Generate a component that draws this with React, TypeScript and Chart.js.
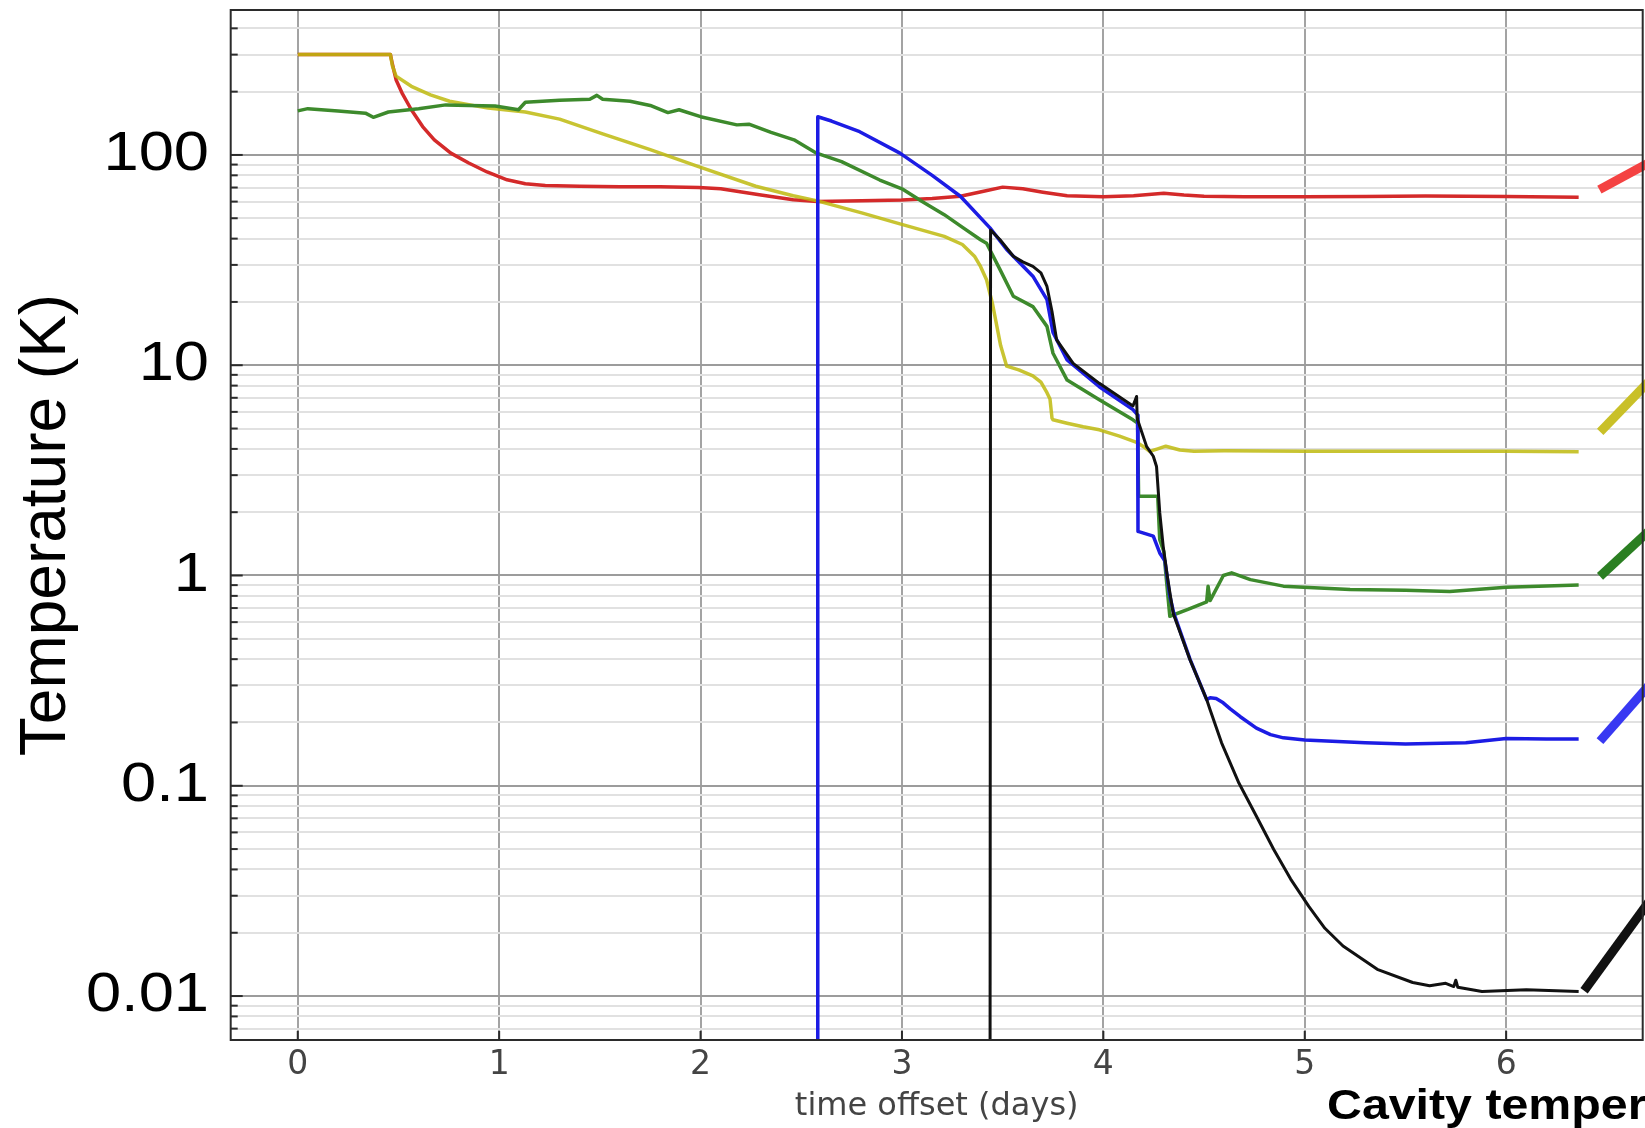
import React, { useEffect, useRef } from 'react';
import { Chart, registerables } from 'chart.js';

Chart.register(...registerables);

// ---- axis ranges & ticks ----
const X_MIN = -0.333;
const X_MAX = 6.678;
const Y_MIN = 0.00618;
const Y_MAX = 489;
const xTicks = [0, 1, 2, 3, 4, 5, 6];
const yTickValues = [100, 10, 1, 0.1, 0.01];
const yTickLabels = ['100', '10', '1', '0.1', '0.01'];

// ---- series (time offset in days, temperature in K) ----
const redX = [0, 0.46, 0.47, 0.488, 0.52, 0.564, 0.62, 0.678, 0.76, 0.849, 0.94, 1.039, 1.13, 1.229, 1.4, 1.6, 1.8, 1.99, 2.1, 2.18, 2.3, 2.46, 2.58, 2.8, 3.0, 3.15, 3.29, 3.4, 3.5, 3.6, 3.7, 3.82, 4.0, 4.15, 4.3, 4.4, 4.5, 4.7, 5.0, 5.3, 5.6, 6.0, 6.36];
const redY = [300, 300, 270, 228, 195, 164, 136.5, 118, 102, 91.6, 83, 76.2, 73, 71.6, 71, 70.5, 70.5, 70, 69, 67.2, 64.5, 61.2, 60, 60.5, 61, 62, 63.6, 67, 70.3, 69, 66.5, 64, 63.3, 64, 65.8, 64.5, 63.6, 63.3, 63.3, 63.5, 63.8, 63.5, 63];

const yellowX = [0, 0.46, 0.47, 0.488, 0.564, 0.659, 0.754, 0.945, 1.13, 1.3, 1.514, 1.75, 1.99, 2.274, 2.46, 2.58, 2.8, 2.99, 3.21, 3.3, 3.36, 3.39, 3.42, 3.45, 3.49, 3.52, 3.58, 3.65, 3.69, 3.72, 3.735, 3.745, 3.75, 3.82, 3.9, 3.98, 4.08, 4.165, 4.2, 4.23, 4.27, 4.31, 4.38, 4.45, 4.6, 5.0, 5.5, 6.0, 6.36];
const yellowY = [300, 300, 265, 237, 212, 193, 180, 167, 160, 148, 126, 106, 88, 71, 64, 60.5, 53, 47, 41, 37.5, 33, 29.5, 25.5, 19.5, 12.4, 9.9, 9.5, 8.9, 8.3, 7.4, 6.9, 5.6, 5.5, 5.3, 5.1, 4.93, 4.6, 4.3, 4.1, 3.89, 4.0, 4.12, 3.95, 3.9, 3.92, 3.9, 3.9, 3.9, 3.88];

const greenX = [0, 0.05, 0.2, 0.336, 0.375, 0.45, 0.6, 0.735, 0.85, 0.98, 1.096, 1.13, 1.3, 1.45, 1.485, 1.514, 1.65, 1.75, 1.838, 1.893, 2.0, 2.18, 2.24, 2.35, 2.464, 2.576, 2.7, 2.89, 3.0, 3.1, 3.21, 3.29, 3.39, 3.42, 3.487, 3.553, 3.65, 3.72, 3.75, 3.82, 3.98, 4.147, 4.17, 4.175, 4.27, 4.28, 4.3, 4.33, 4.42, 4.513, 4.52, 4.53, 4.596, 4.637, 4.73, 4.894, 5.225, 5.5, 5.72, 6.0, 6.36];
const greenY = [162, 166, 162, 158, 151, 160, 166, 173, 172, 171, 164, 178, 182, 184, 192, 184, 180, 172, 159, 164, 152, 139, 140, 128, 118, 102, 93, 76, 69, 60, 52, 46, 39.5, 38, 28.5, 21.3, 19, 15.3, 11.4, 8.5, 6.85, 5.5, 5.3, 2.38, 2.38, 1.48, 1.3, 0.64, 0.69, 0.75, 0.89, 0.76, 1.0, 1.03, 0.956, 0.89, 0.857, 0.85, 0.84, 0.88, 0.9];

const blueX = [2.58, 2.582, 2.65, 2.79, 2.99, 3.15, 3.29, 3.437, 3.52, 3.65, 3.72, 3.75, 3.82, 3.98, 4.147, 4.17, 4.172, 4.248, 4.28, 4.306, 4.33, 4.35, 4.43, 4.513, 4.53, 4.56, 4.595, 4.63, 4.68, 4.76, 4.83, 4.894, 5.0, 5.3, 5.5, 5.8, 6.0, 6.2, 6.36];
const blueY = [0.001, 152, 145, 129, 102, 80, 63.6, 45, 35.5, 26.5, 20.5, 14.3, 10.6, 7.9, 6.15, 5.8, 1.62, 1.54, 1.28, 1.17, 0.8, 0.66, 0.4, 0.257, 0.262, 0.26, 0.248, 0.232, 0.213, 0.188, 0.175, 0.169, 0.165, 0.16, 0.158, 0.16, 0.168, 0.167, 0.167];

const blackX = [3.437, 3.44, 3.487, 3.553, 3.6, 3.65, 3.69, 3.72, 3.745, 3.768, 3.85, 3.98, 4.147, 4.165, 4.168, 4.17, 4.215, 4.248, 4.264, 4.28, 4.297, 4.32, 4.347, 4.43, 4.513, 4.53, 4.587, 4.673, 4.76, 4.846, 4.93, 5.02, 5.1, 5.19, 5.36, 5.536, 5.62, 5.7, 5.74, 5.75, 5.76, 5.88, 6.1, 6.36];
const blackY = [0.001, 44, 39.5, 33, 31, 29.5, 27.5, 23.7, 18, 13.2, 10.2, 8.2, 6.4, 7.1, 5.6, 5.5, 4.1, 3.69, 3.3, 1.99, 1.38, 0.956, 0.66, 0.398, 0.257, 0.23, 0.16, 0.103, 0.0716, 0.0498, 0.036, 0.0267, 0.021, 0.0173, 0.0134, 0.0116, 0.0112, 0.0115, 0.0111, 0.0119, 0.011, 0.0105, 0.0107, 0.0105];

// ---- annotation leader lines at the right edge ----
const redLeadX = [6.463, 6.75];
const redLeadY = [68.4, 96.4];
const yellowLeadX = [6.467, 6.75];
const yellowLeadY = [4.82, 9.2];
const greenLeadX = [6.466, 6.75];
const greenLeadY = [0.99, 1.77];
const blueLeadX = [6.466, 6.75];
const blueLeadY = [0.163, 0.333];
const blackLeadX = [6.387, 6.75];
const blackLeadY = [0.0106, 0.0318];

const toPts = (xs: number[], ys: number[]) => xs.map((x, i) => ({ x, y: ys[i] }));
const isDecade = (v: number) => Math.abs(Math.log10(v) - Math.round(Math.log10(v))) < 1e-6;

const overlayPlugin = {
  id: 'frameTicksLabels',
  afterDraw(chart: any) {
    const { ctx, chartArea: a, scales } = chart;
    const ys = scales.y;
    const xs = scales.x;
    ctx.save();
    ctx.strokeStyle = '#2b2b2b';
    ctx.lineWidth = 2;
    ys.ticks.forEach((t: any) => {
      const py = ys.getPixelForValue(t.value);
      const len = isDecade(t.value) ? 12 : 7;
      ctx.beginPath();
      ctx.moveTo(a.left, py);
      ctx.lineTo(a.left + len, py);
      ctx.stroke();
    });
    xs.ticks.forEach((t: any) => {
      const px = xs.getPixelForValue(t.value);
      ctx.beginPath();
      ctx.moveTo(px, a.bottom);
      ctx.lineTo(px, a.bottom - 9);
      ctx.stroke();
    });
    ctx.strokeRect(a.left, a.top, a.right - a.left, a.bottom - a.top);
    ctx.fillStyle = '#000';
    ctx.font = '55px "Liberation Sans", Arial, sans-serif';
    ctx.textAlign = 'right';
    ctx.textBaseline = 'middle';
    yTickValues.forEach((v, i) => {
      const py = ys.getPixelForValue(v);
      ctx.save();
      ctx.translate(209, py);
      ctx.scale(1.15, 1);
      ctx.fillText(yTickLabels[i], 0, 0);
      ctx.restore();
    });
    ctx.restore();
  },
};

export default function App() {
  const ref = useRef<HTMLCanvasElement | null>(null);

  useEffect(() => {
    if (!ref.current) return;
    const series = (xs: number[], ys: number[], color: string, width = 3.5) => ({
      data: toPts(xs, ys),
      borderColor: color,
      backgroundColor: color,
      borderWidth: width,
      pointRadius: 0,
      fill: false,
      clip: 0,
    });
    const lead = (xs: number[], ys: number[], color: string) => ({
      data: toPts(xs, ys),
      borderColor: color,
      backgroundColor: color,
      borderWidth: 9,
      borderCapStyle: 'butt',
      pointRadius: 0,
      fill: false,
      clip: false,
    });
    const chart = new Chart(ref.current, {
      type: 'line',
      data: {
        datasets: [
          lead(redLeadX, redLeadY, '#f44242'),
          lead(yellowLeadX, yellowLeadY, '#c9c028'),
          lead(greenLeadX, greenLeadY, '#2b7f22'),
          lead(blueLeadX, blueLeadY, '#3838f2'),
          lead(blackLeadX, blackLeadY, '#111111'),
          series(blackX, blackY, '#111111', 3),
          series(blueX, blueY, '#1c1ce4'),
          series(greenX, greenY, '#3d8a2c'),
          series(yellowX, yellowY, 'rgba(190,186,14,0.85)'),
          series(redX, redY, '#d42a2a'),
        ] as any,
      },
      options: {
        animation: false,
        responsive: false,
        maintainAspectRatio: false,
        layout: { padding: { top: 10, right: 2.3, left: 0, bottom: 0 } },
        plugins: { legend: { display: false }, tooltip: { enabled: false } },
        elements: { point: { radius: 0 }, line: { tension: 0, borderJoinStyle: 'round' } },
        scales: {
          x: {
            type: 'linear',
            min: X_MIN,
            max: X_MAX,
            afterBuildTicks: (s: any) => {
              s.ticks = xTicks.map((v) => ({ value: v }));
            },
            afterFit: (s: any) => {
              s.height = 88;
            },
            grid: { color: '#a3a3a3', lineWidth: 2, drawTicks: false },
            border: { display: false },
            ticks: {
              font: { family: 'DejaVu Sans', size: 33 },
              color: '#444',
              padding: 6,
              maxRotation: 0,
              autoSkip: false,
            },
            title: {
              display: true,
              text: 'time offset (days)',
              font: { family: 'DejaVu Sans', size: 32, lineHeight: 1 },
              color: '#444',
              padding: { top: 0, bottom: 5 },
            },
          },
          y: {
            type: 'logarithmic',
            min: Y_MIN,
            max: Y_MAX,
            afterBuildTicks: (s: any) => {
              const t: any[] = [];
              for (let e = -3; e <= 2; e++) {
                for (let m = 1; m <= 9; m++) {
                  const v = parseFloat((m * Math.pow(10, e)).toPrecision(3));
                  if (v >= Y_MIN && v <= Y_MAX) t.push({ value: v });
                }
              }
              s.ticks = t;
            },
            afterFit: (s: any) => {
              s.width = 230.7;
            },
            grid: {
              color: (c: any) => (c.tick && isDecade(c.tick.value) ? '#9c9c9c' : '#e1e1e1'),
              lineWidth: 2,
              drawTicks: false,
            },
            border: { display: false },
            ticks: { display: false },
            title: {
              display: true,
              text: 'Temperature (K)',
              font: { family: 'Liberation Sans', size: 64, lineHeight: 1 },
              color: '#000',
              padding: { top: 15, bottom: 0 },
            },
          },
        },
      } as any,
      plugins: [overlayPlugin],
    });
    return () => chart.destroy();
  }, []);

  return (
    <div
      style={{
        position: 'fixed',
        left: 0,
        top: 0,
        width: 1645,
        height: 1128,
        overflow: 'hidden',
        background: '#fff',
      }}
    >
      <canvas ref={ref} width={1645} height={1128} style={{ display: 'block', width: 1645, height: 1128 }} />
      <div
        style={{
          position: 'absolute',
          left: 1327,
          top: 1084,
          fontFamily: '"Liberation Sans", Arial, sans-serif',
          fontWeight: 'bold',
          fontSize: 42,
          lineHeight: '42px',
          whiteSpace: 'nowrap',
          color: '#000',
          transform: 'scaleX(1.15)',
          transformOrigin: 'left top',
        }}
      >
        Cavity temper
      </div>
    </div>
  );
}
